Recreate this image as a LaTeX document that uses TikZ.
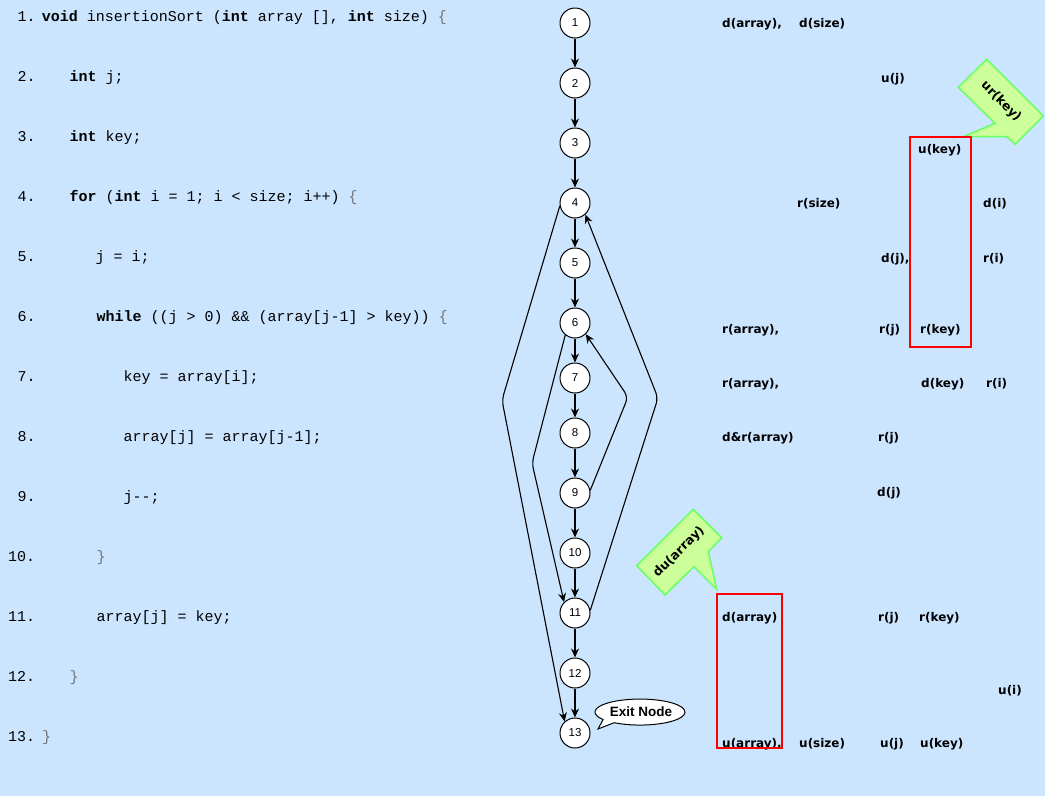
\documentclass[tikz,border=0pt]{standalone}
\usepackage{fontspec}
\setmainfont{DejaVu Sans}
\newfontfamily\codefont{Liberation Mono}
\newfontfamily\numfont{Liberation Sans}
\newfontfamily\lblfont{DejaVu Sans}
\usetikzlibrary{arrows.meta}
\definecolor{bg}{RGB}{204,229,255}
\definecolor{calfill}{RGB}{204,255,153}
\definecolor{caldraw}{RGB}{102,255,102}
\newcommand\kw[1]{\textbf{#1}}
\newcommand\brc[1]{\textcolor{black!55}{#1}}
\begin{document}
\begin{tikzpicture}[x=1pt,y=-1pt,
  cfg/.style={draw,circle,fill=white,minimum size=30pt,inner sep=0pt,line width=1pt,font=\numfont\fontsize{11.5}{13}\selectfont},
  arr/.style={-{Stealth[length=9pt,width=8pt,inset=3pt]},line width=1.1pt},
  lbl/.style={anchor=base west,inner sep=0pt,font=\lblfont\bfseries\fontsize{12}{14}\selectfont},
  code/.style={anchor=base west,inner sep=0pt,font=\codefont\fontsize{15}{17}\selectfont},
  redbox/.style={draw=red,line width=2pt},
  callout/.style={fill=calfill,draw=caldraw,line width=1.5pt,line join=miter},
  caltext/.style={inner sep=0pt,font=\lblfont\bfseries\fontsize{12.5}{14}\selectfont}]
\fill[bg] (0,0) rectangle (1045,796);
\useasboundingbox (0,0) rectangle (1045,796);

% code
\node[code] (l1) at (17.3,21.6) {1.};
\node[code] (t1) at (41.7,21.6) {\kw{void} insertionSort (\kw{int} array [], \kw{int} size) \brc{\{}};
\node[code] (l2) at (17.3,81.6) {2.};
\node[code] (t2) at (69.3,81.6) {\kw{int} j;};
\node[code] (l3) at (17.3,141.6) {3.};
\node[code] (t3) at (69.3,141.6) {\kw{int} key;};
\node[code] (l4) at (17.3,201.6) {4.};
\node[code] (t4) at (69.3,201.6) {\kw{for} (\kw{int} i = 1; i < size; i++) \brc{\{}};
\node[code] (l5) at (17.3,261.6) {5.};
\node[code] (t5) at (95.5,261.6) {j = i;};
\node[code] (l6) at (17.3,321.6) {6.};
\node[code] (t6) at (96.5,321.6) {\kw{while} ((j > 0) \&\& (array[j-1] > key)) \brc{\{}};
\node[code] (l7) at (17.3,381.6) {7.};
\node[code] (t7) at (123.5,381.6) {key = array[i];};
\node[code] (l8) at (17.3,441.6) {8.};
\node[code] (t8) at (123.5,441.6) {array[j] = array[j-1];};
\node[code] (l9) at (17.3,501.6) {9.};
\node[code] (t9) at (123.5,501.6) {j-{}-;};
\node[code] (l10) at (8,561.6) {10.};
\node[code] (t10) at (96.5,561.6) {\brc{\}}};
\node[code] (l11) at (8,621.6) {11.};
\node[code] (t11) at (96.5,621.6) {array[j] = key;};
\node[code] (l12) at (8,681.6) {12.};
\node[code] (t12) at (69.5,681.6) {\brc{\}}};
\node[code] (l13) at (8,741.6) {13.};
\node[code] (t13) at (42,741.6) {\brc{\}}};

% graph nodes
\node[cfg] (n1) at (575,23) {1};
\node[cfg] (n2) at (575,83) {2};
\node[cfg] (n3) at (575,143) {3};
\node[cfg] (n4) at (575,203) {4};
\node[cfg] (n5) at (575,263) {5};
\node[cfg] (n6) at (575,323) {6};
\node[cfg] (n7) at (575,378) {7};
\node[cfg] (n8) at (575,433) {8};
\node[cfg] (n9) at (575,493) {9};
\node[cfg] (n10) at (575,553) {10};
\node[cfg] (n11) at (575,613) {11};
\node[cfg] (n12) at (575,673) {12};
\node[cfg] (n13) at (575,733) {13};

\draw[arr] (n1) -- (n2);
\draw[arr] (n2) -- (n3);
\draw[arr] (n3) -- (n4);
\draw[arr] (n4) -- (n5);
\draw[arr] (n5) -- (n6);
\draw[arr] (n6) -- (n7);
\draw[arr] (n7) -- (n8);
\draw[arr] (n8) -- (n9);
\draw[arr] (n9) -- (n10);
\draw[arr] (n10) -- (n11);
\draw[arr] (n11) -- (n12);
\draw[arr] (n12) -- (n13);

\coordinate (b1) at (502,400);
\coordinate (b2) at (532,463);
\coordinate (b3) at (628,397);
\coordinate (b4) at (658,398);
\draw[arr,rounded corners=6pt] (n4.191) -- (b1) -- (n13.132);
\draw[arr,rounded corners=6pt] (n6.231) -- (b2) -- (n11.135);
\draw[arr,rounded corners=6pt] (n9.10) -- (b3) -- (n6.-46);
\draw[arr,rounded corners=6pt] (n11.10) -- (b4) -- (n4.-48);

% exit node callout
\draw[fill=white,line width=1pt] (614.2,722.7) arc[start angle=125,end angle=-215,x radius=45,y radius=13] -- (598,729) -- cycle;
\node[inner sep=0pt,font=\numfont\bfseries\fontsize{13.5}{15}\selectfont] (exit) at (641,711.5) {Exit Node};

% labels
\node[lbl] (a1) at (722,27) {d(array),};
\node[lbl] (a2) at (799,27) {d(size)};
\node[lbl] (a3) at (881,82) {u(j)};
\node[lbl] (a4) at (918,153) {u(key)};
\node[lbl] (a5) at (797,207) {r(size)};
\node[lbl] (a6) at (983,207) {d(i)};
\node[lbl] (a7) at (881,262) {d(j),};
\node[lbl] (a8) at (983,262) {r(i)};
\node[lbl] (a9) at (722,333) {r(array),};
\node[lbl] (a10) at (879,333) {r(j)};
\node[lbl] (a11) at (920,333) {r(key)};
\node[lbl] (a12) at (722,387) {r(array),};
\node[lbl] (a13) at (921,387) {d(key)};
\node[lbl] (a14) at (986,387) {r(i)};
\node[lbl] (a15) at (722,441) {d\&r(array)};
\node[lbl] (a16) at (878,441) {r(j)};
\node[lbl] (a17) at (877,496) {d(j)};
\node[lbl] (a18) at (722,621) {d(array)};
\node[lbl] (a19) at (878,621) {r(j)};
\node[lbl] (a20) at (919,621) {r(key)};
\node[lbl] (a21) at (998,694) {u(i)};
\node[lbl] (a22) at (722,747) {u(array),};
\node[lbl] (a23) at (799,747) {u(size)};
\node[lbl] (a24) at (880,747) {u(j)};
\node[lbl] (a25) at (920,747) {u(key)};

% callouts
\draw[callout] (958.3,87.3) -- (986.7,59.3) -- (1043.3,116) -- (1015,144.3) -- (1006.7,136.7) -- (963.3,136.7) -- (995,123.3) -- cycle;
\node[caltext,rotate=-45] (ur) at (1001,101.5) {ur(key)};
\draw[callout] (636.7,565.7) -- (693.3,509.3) -- (721.7,537.7) -- (708.3,551.7) -- (716.7,589.3) -- (694,566.7) -- (665,595) -- cycle;
\node[caltext,rotate=45] (du) at (679,552) {du(array)};

% red boxes
\draw[redbox] (910,137) rectangle (971,347);
\draw[redbox] (717,594) rectangle (782,748);
\end{tikzpicture}
\end{document}
